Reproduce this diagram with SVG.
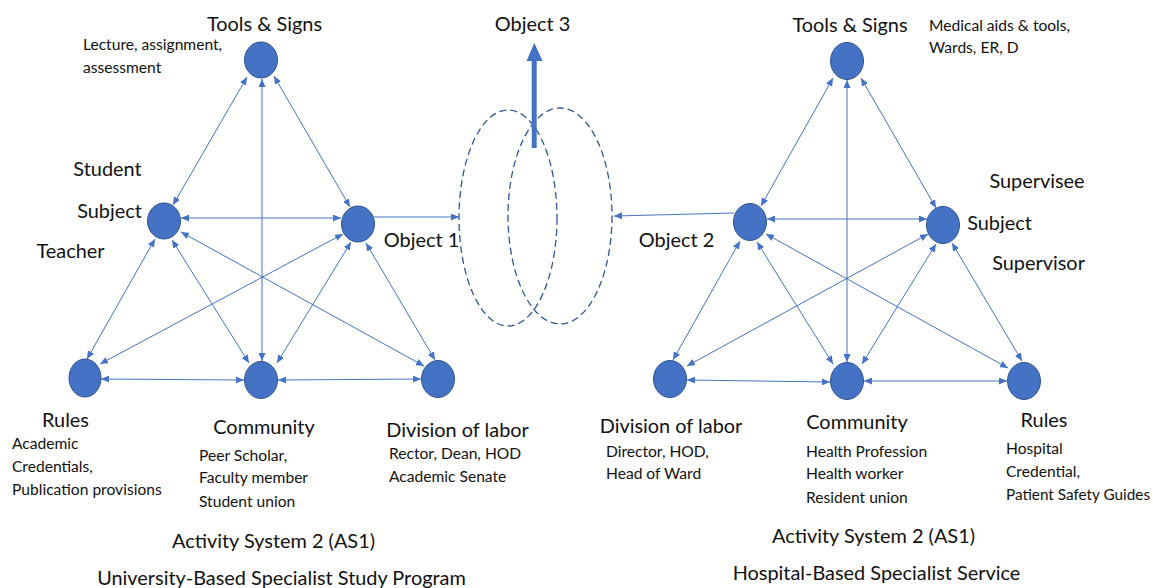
<svg xmlns="http://www.w3.org/2000/svg" width="1153" height="588" viewBox="0 0 1153 588">
<style>
.node{fill:#4472C4;stroke:#2F528F;stroke-width:1}
.ln{stroke:#4472C4;stroke-width:1;fill:none;marker-start:url(#ah);marker-end:url(#ah)}
.ln1{stroke:#4472C4;stroke-width:1;fill:none;marker-end:url(#ah)}
.big{font-family:Lato,"Liberation Sans",sans-serif;font-size:19.9px;fill:#111;text-anchor:middle}
.sm{font-family:Lato,"Liberation Sans",sans-serif;font-size:15.6px;fill:#111}
.ring{fill:none;stroke:#2F5597;stroke-width:1.3;stroke-dasharray:7 4}
</style>
<defs>
<marker id="ah" markerUnits="userSpaceOnUse" markerWidth="8" markerHeight="7" refX="8" refY="3.5" orient="auto-start-reverse">
<path d="M0,0 L8,3.5 L0,7 z" fill="#4472C4"/>
</marker>
</defs>
<rect width="1153" height="588" fill="#fff"/>
<g id="connectors">
<line class="ln" x1="247" y1="77" x2="173" y2="205"/>
<line class="ln" x1="274" y1="76" x2="350" y2="207"/>
<line class="ln" x1="262" y1="79" x2="262" y2="361"/>
<line class="ln" x1="181" y1="218" x2="341" y2="218"/>
<line class="ln" x1="155" y1="239" x2="87" y2="359"/>
<line class="ln" x1="172" y1="240" x2="249" y2="363"/>
<line class="ln" x1="181" y1="232" x2="424" y2="366"/>
<line class="ln" x1="343" y1="234" x2="100" y2="364"/>
<line class="ln" x1="351" y1="242" x2="277" y2="363"/>
<line class="ln" x1="366" y1="243" x2="435" y2="360"/>
<line class="ln" x1="101" y1="379" x2="244" y2="380"/>
<line class="ln" x1="278" y1="380" x2="421" y2="379"/>
<line class="ln1" x1="374" y1="217" x2="459" y2="217"/>
<line class="ln" x1="833" y1="78" x2="761" y2="206"/>
<line class="ln" x1="861" y1="78" x2="936" y2="208"/>
<line class="ln" x1="847" y1="80" x2="847" y2="362"/>
<line class="ln" x1="767" y1="219" x2="927" y2="219"/>
<line class="ln" x1="740" y1="241" x2="673" y2="360"/>
<line class="ln" x1="757" y1="242" x2="833" y2="364"/>
<line class="ln" x1="766" y1="234" x2="1008" y2="368"/>
<line class="ln" x1="928" y1="234" x2="687" y2="366"/>
<line class="ln" x1="936" y1="244" x2="862" y2="364"/>
<line class="ln" x1="952" y1="243" x2="1022" y2="361"/>
<line class="ln" x1="687" y1="380" x2="830" y2="382"/>
<line class="ln" x1="864" y1="381" x2="1007" y2="381"/>
<line class="ln1" x1="734" y1="213" x2="614" y2="216"/>
</g>
<g id="object-rings">
<ellipse class="ring" cx="508" cy="218" rx="49" ry="108"/>
<ellipse class="ring" cx="560" cy="216" rx="52" ry="108"/>
</g>
<g id="object3">
<polygon points="531.7,148 536.7,148 536.7,61 542.5,61 534.3,43 526.5,61 531.7,61" fill="#4472C4"/>
<text class="big" x="532.5" y="31">Object 3</text>
</g>
<g id="tools1">
<ellipse class="node" cx="261" cy="60" rx="16.5" ry="18"/>
<text class="big" x="264.5" y="31">Tools &amp; Signs</text>
<text class="sm" x="83" y="50">Lecture, assignment,</text>
<text class="sm" x="83" y="73">assessment</text>
</g>
<g id="subject1">
<ellipse class="node" cx="164" cy="221" rx="16.5" ry="18"/>
<text class="big" x="107.5" y="176">Student</text>
<text class="big" x="109.5" y="218">Subject</text>
<text class="big" x="70.5" y="258">Teacher</text>
</g>
<g id="object1">
<ellipse class="node" cx="358" cy="224" rx="16.5" ry="18"/>
<text class="big" x="421.5" y="247">Object 1</text>
</g>
<g id="rules1">
<ellipse class="node" cx="85" cy="378" rx="16" ry="19"/>
<text class="big" x="65.5" y="427">Rules</text>
<text class="sm" x="12" y="449">Academic</text>
<text class="sm" x="12" y="472">Credentials,</text>
<text class="sm" x="12" y="495">Publication provisions</text>
</g>
<g id="community1">
<ellipse class="node" cx="261" cy="380" rx="16.5" ry="18.5"/>
<text class="big" x="264" y="434">Community</text>
<text class="sm" x="199" y="461">Peer Scholar,</text>
<text class="sm" x="199" y="483">Faculty member</text>
<text class="sm" x="199" y="507">Student union</text>
</g>
<g id="division1">
<ellipse class="node" cx="438" cy="379" rx="16.5" ry="18.5"/>
<text class="big" x="457.5" y="437">Division of labor</text>
<text class="sm" x="389" y="459">Rector, Dean, HOD</text>
<text class="sm" x="389" y="482">Academic Senate</text>
</g>
<g id="caption1">
<text class="big" x="273.5" y="548">Activity System 2 (AS1)</text>
<text class="big" x="281.5" y="585">University-Based Specialist Study Program</text>
</g>
<g id="tools2">
<ellipse class="node" cx="847" cy="61" rx="16.5" ry="18.5"/>
<text class="big" x="850" y="32">Tools &amp; Signs</text>
<text class="sm" x="929" y="31">Medical aids &amp; tools,</text>
<text class="sm" x="929" y="53">Wards, ER, D</text>
</g>
<g id="object2">
<ellipse class="node" cx="750" cy="222" rx="16.5" ry="18.5"/>
<text class="big" x="676.5" y="247">Object 2</text>
</g>
<g id="subject2">
<ellipse class="node" cx="943" cy="225" rx="16.5" ry="18.5"/>
<text class="big" x="1037" y="188">Supervisee</text>
<text class="big" x="999.5" y="230">Subject</text>
<text class="big" x="1038.5" y="270">Supervisor</text>
</g>
<g id="division2">
<ellipse class="node" cx="670" cy="379" rx="16.5" ry="18.5"/>
<text class="big" x="671" y="433">Division of labor</text>
<text class="sm" x="606" y="457">Director, HOD,</text>
<text class="sm" x="606" y="479">Head of Ward</text>
</g>
<g id="community2">
<ellipse class="node" cx="847" cy="381" rx="16.5" ry="18.5"/>
<text class="big" x="857" y="429">Community</text>
<text class="sm" x="806" y="457">Health Profession</text>
<text class="sm" x="806" y="479">Health worker</text>
<text class="sm" x="806" y="503">Resident union</text>
</g>
<g id="rules2">
<ellipse class="node" cx="1024" cy="381" rx="16.5" ry="18.5"/>
<text class="big" x="1044" y="427">Rules</text>
<text class="sm" x="1006" y="454">Hospital</text>
<text class="sm" x="1006" y="477">Credential,</text>
<text class="sm" x="1006" y="500" textLength="144" lengthAdjust="spacingAndGlyphs">Patient Safety Guides</text>
</g>
<g id="caption2">
<text class="big" x="873.5" y="543">Activity System 2 (AS1)</text>
<text class="big" x="876.5" y="580">Hospital-Based Specialist Service</text>
</g>
</svg>
